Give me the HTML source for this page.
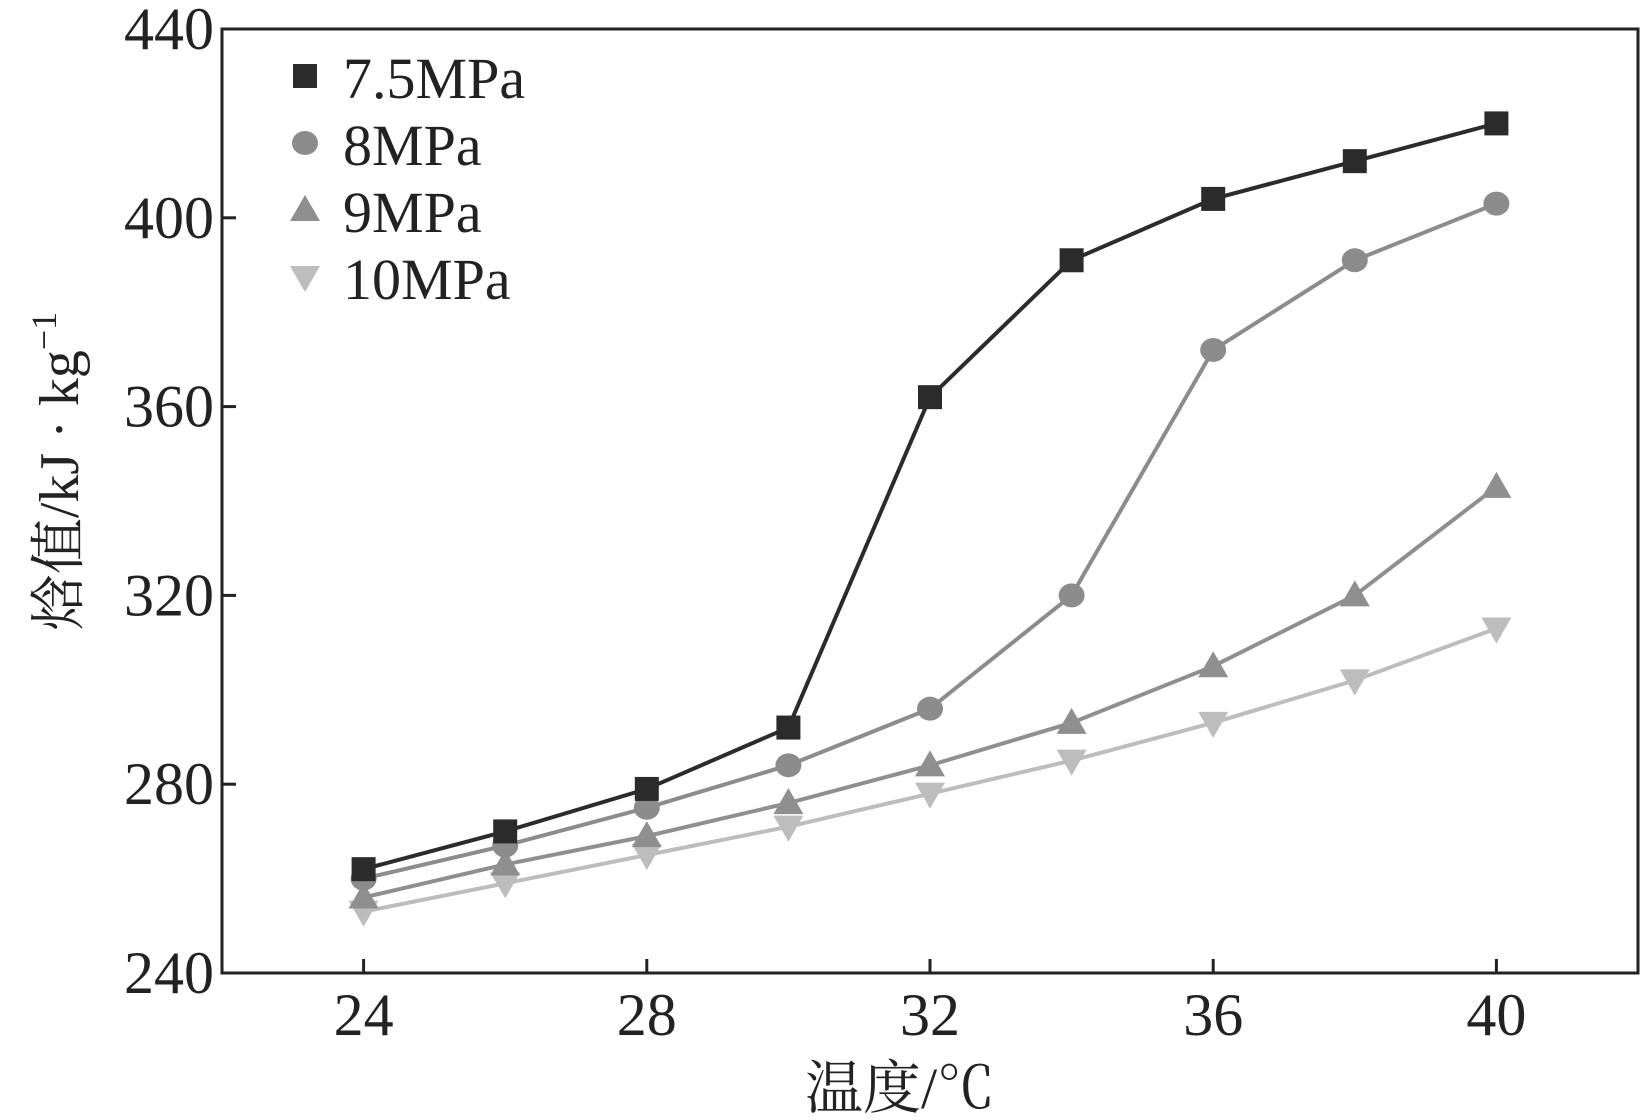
<!DOCTYPE html>
<html><head><meta charset="utf-8"><style>
body{margin:0;background:#fff}
svg text{font-family:"Liberation Serif","Noto Serif CJK SC",serif;fill:#222}
</style></head><body>
<svg id="c" width="1641" height="1115" xmlns="http://www.w3.org/2000/svg"></svg>
<script>
const xs=[24,26,28,30,32,34,36,38,40];
const s75=[262,270,279,292,362,391,404,412,420];
const s8=[260,267,275,284,296,320,372,391,403];
const s9=[256,263,269,276,284,293,305,320,343];
const s10=[253,259,265,271,278,285,293,302,313];
const seriesNames=["7.5MPa","8MPa","9MPa","10MPa"];
const xTicks=[24,28,32,36,40];
const yTicks=[240,280,320,360,400,440];
const L=222,R=1638,T=29,B=973;
const X=v=>L+(v-22)/20*(R-L);
const Y=v=>B-(v-240)/200*(B-T);
const svg=document.getElementById('c');
const NS="http://www.w3.org/2000/svg";
function el(t,a,p){const e=document.createElementNS(NS,t);for(const k in a)e.setAttribute(k,a[k]);(p||svg).appendChild(e);return e;}
const frame=el('rect',{x:L,y:T,width:R-L,height:B-T,fill:'none',stroke:'#222','stroke-width':3});


xTicks.forEach(v=>{
 const t=el('line',{x1:X(v),x2:X(v),y1:B,y2:B-14,stroke:'#222','stroke-width':3});
 
 
 const l=el('text',{x:X(v),y:B+62,'text-anchor':'middle','font-size':60});l.textContent=v;
 
 
});
yTicks.forEach(v=>{
 const t=el('line',{x1:L,x2:L+14,y1:Y(v),y2:Y(v),stroke:'#222','stroke-width':3});
 
 
 const l=el('text',{x:L-8,y:Y(v)+20,'text-anchor':'end','font-size':60});l.textContent=v;
 
 
});
const xt=el('text',{x:(L+R)/2-30,y:1108,'text-anchor':'middle','font-size':58});xt.textContent='温度/℃';


const yt=el('text',{transform:'translate(78,'+((T+B)/2-30)+') rotate(-90)','text-anchor':'middle','font-size':56});yt.innerHTML='焓值/kJ · kg<tspan dy="-22" font-size="36">−1</tspan>';


const colors=['#2b2b2b','#8c8c8c','#8f8f8f','#bdbdbd'];
const data=[s75,s8,s9,s10];
function marker(k,x,y,g){
 const c=colors[k];let m;
 if(k===0)m=el('rect',{x:x-12,y:y-12,width:24,height:24,fill:c},g);
 else if(k===1)m=el('ellipse',{cx:x,cy:y,rx:13,ry:12,fill:c},g);
 else if(k===2)m=el('polygon',{points:`${x},${y-15} ${x-15},${y+11} ${x+15},${y+11}`,fill:c},g);
 else m=el('polygon',{points:`${x},${y+15} ${x-15},${y-11} ${x+15},${y-11}`,fill:c},g);
 return m;
}
[3,2,1,0].forEach(k=>{
 const g=el('g',{});
 
 
 const p=el('polyline',{points:xs.map((x,i)=>X(x)+','+Y(data[k][i])).join(' '),fill:'none',stroke:colors[k],'stroke-width':4},g);
 
 
 xs.forEach((x,i)=>{const m=marker(k,X(x),Y(data[k][i]),g);
  
  });
});
seriesNames.forEach((n,k)=>{
 const y=78+k*67;
 const g=el('g',{});
 
 
 marker(k,305,y-2,g);
 const t=el('text',{x:343,y:y+20,'font-size':58},g);t.textContent=n;
});
</script>
</body></html>
